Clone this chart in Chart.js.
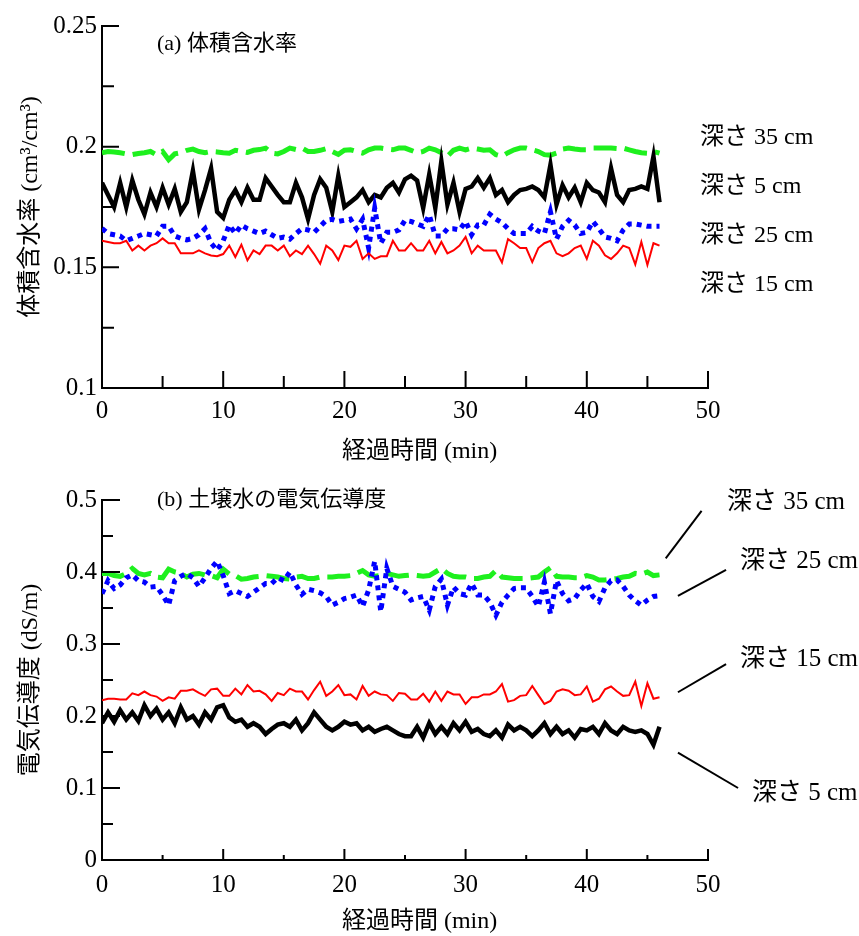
<!DOCTYPE html>
<html>
<head>
<meta charset="UTF-8">
<title>体積含水率・電気伝導度</title>
<style>
  body { margin: 0; background: #fff; }
  .box { position: absolute; left: 0; width: 859px; }
  #boxA { top: 0; height: 470px; }
  #boxB { top: 470px; height: 466px; }
</style>
</head>
<body>
<div class="box" id="boxA"><canvas id="chartA"></canvas></div>
<div class="box" id="boxB"><canvas id="chartB"></canvas></div>
<script src="https://cdn.jsdelivr.net/npm/chart.js@4.4.0/dist/chart.umd.min.js"></script>
<script>
// 経過時間 (min)
var times = [
  0, 0.5, 1, 1.5, 2, 2.5, 3, 3.5, 4, 4.5,
  5, 5.5, 6, 6.5, 7, 7.5, 8, 8.5, 9, 9.5,
  10, 10.5, 11, 11.5, 12, 12.5, 13, 13.5, 14, 14.5,
  15, 15.5, 16, 16.5, 17, 17.5, 18, 18.5, 19, 19.5,
  20, 20.5, 21, 21.5, 22, 22.5, 23, 23.5, 24, 24.5,
  25, 25.5, 26, 26.5, 27, 27.5, 28, 28.5, 29, 29.5,
  30, 30.5, 31, 31.5, 32, 32.5, 33, 33.5, 34, 34.5,
  35, 35.5, 36, 36.5, 37, 37.5, 38, 38.5, 39, 39.5,
  40, 40.5, 41, 41.5, 42, 42.5, 43, 43.5, 44, 44.5,
  45, 45.5, 46
];

// (a) 体積含水率 (cm3/cm3)
var vol5 = [
  0.185, 0.180, 0.175, 0.185, 0.175, 0.186, 0.178, 0.172, 0.181, 0.175,
  0.183, 0.176, 0.1825, 0.173, 0.177, 0.190, 0.174, 0.182, 0.191, 0.173,
  0.1705, 0.178, 0.182, 0.177, 0.183, 0.178, 0.178, 0.187, 0.1835, 0.180,
  0.177, 0.177, 0.185, 0.179, 0.170, 0.180, 0.1865, 0.183, 0.173, 0.188,
  0.175, 0.177, 0.179, 0.182, 0.177, 0.180, 0.179, 0.183, 0.185, 0.181,
  0.1865, 0.188, 0.186, 0.1746, 0.1885, 0.1746, 0.194, 0.176, 0.185, 0.173,
  0.1825, 0.1835, 0.187, 0.183, 0.187, 0.180, 0.182, 0.177, 0.180, 0.182,
  0.1825, 0.1835, 0.182, 0.179, 0.1925, 0.176, 0.184, 0.179, 0.183, 0.177,
  0.185, 0.182, 0.181, 0.177, 0.191, 0.180, 0.177, 0.182, 0.1825, 0.1835,
  0.1825, 0.196, 0.177
];
var vol15 = [
  0.161, 0.1605, 0.160, 0.160, 0.161, 0.157, 0.159, 0.157, 0.159, 0.160,
  0.162, 0.160, 0.160, 0.1558, 0.1558, 0.1558, 0.157, 0.1558, 0.1549, 0.1546,
  0.1555, 0.159, 0.1543, 0.1594, 0.1529, 0.157, 0.1555, 0.159, 0.159, 0.157,
  0.159, 0.1546, 0.157, 0.1555, 0.159, 0.1555, 0.1515, 0.159, 0.157, 0.153,
  0.159, 0.1585, 0.161, 0.1535, 0.1558, 0.1535, 0.1546, 0.1546, 0.161, 0.157,
  0.157, 0.160, 0.157, 0.157, 0.161, 0.1558, 0.1605, 0.1558, 0.157, 0.159,
  0.1626, 0.1558, 0.159, 0.157, 0.157, 0.157, 0.152, 0.1617, 0.160, 0.158,
  0.158, 0.1522, 0.158, 0.160, 0.161, 0.1558, 0.1546, 0.1558, 0.158, 0.159,
  0.1535, 0.161, 0.159, 0.155, 0.1535, 0.1558, 0.159, 0.158, 0.1512, 0.1605,
  0.151, 0.160, 0.159
];
var vol25 = [
  0.1661, 0.164, 0.1635, 0.163, 0.161, 0.162, 0.163, 0.164, 0.1635, 0.163,
  0.167, 0.167, 0.163, 0.162, 0.1614, 0.162, 0.1635, 0.166, 0.160, 0.157,
  0.161, 0.1675, 0.164, 0.1675, 0.166, 0.165, 0.164, 0.165, 0.1635, 0.162,
  0.1625, 0.1617, 0.164, 0.166, 0.1655, 0.1645, 0.167, 0.1695, 0.1699, 0.169,
  0.1695, 0.170, 0.166, 0.1699, 0.158, 0.1745, 0.160, 0.1645, 0.1645, 0.1655,
  0.1695, 0.169, 0.168, 0.167, 0.1717, 0.163, 0.163, 0.166, 0.166, 0.1655,
  0.169, 0.1635, 0.1675, 0.1675, 0.172, 0.170, 0.1685, 0.166, 0.164, 0.164,
  0.164, 0.167, 0.165, 0.164, 0.173, 0.1617, 0.167, 0.1695, 0.1675, 0.164,
  0.1645, 0.169, 0.166, 0.1626, 0.162, 0.161, 0.1655, 0.168, 0.168, 0.1675,
  0.167, 0.167, 0.167
];
var vol35 = [
  0.1975, 0.198, 0.1978, 0.1975, 0.197, 0.1967, 0.1972, 0.1975, 0.198, 0.1966,
  0.198, 0.1946, 0.197, 0.1975, 0.1985, 0.199, 0.198, 0.1975, 0.198, 0.1978,
  0.1975, 0.1973, 0.1985, 0.198, 0.1976, 0.1985, 0.1988, 0.1994, 0.1973, 0.197,
  0.198, 0.1994, 0.1988, 0.1994, 0.198, 0.198, 0.1985, 0.1992, 0.198, 0.1968,
  0.1985, 0.1987, 0.198, 0.1973, 0.1987, 0.1994, 0.1994, 0.199, 0.1987, 0.1994,
  0.1994, 0.1985, 0.1975, 0.198, 0.1994, 0.1987, 0.1975, 0.196, 0.1985, 0.1994,
  0.1987, 0.1994, 0.199, 0.1985, 0.1987, 0.1967, 0.196, 0.1975, 0.1987, 0.1994,
  0.1994, 0.1987, 0.198, 0.1967, 0.1965, 0.1973, 0.199, 0.1994, 0.199, 0.1987,
  0.1987, 0.1994, 0.1994, 0.1994, 0.1994, 0.1992, 0.1994, 0.1987, 0.198, 0.1975,
  0.1973, 0.198, 0.1973
];

// (b) 土壌水の電気伝導度 (dS/m)
var ec5 = [
  0.190, 0.205, 0.192, 0.208, 0.195, 0.205, 0.193, 0.215, 0.200, 0.210,
  0.195, 0.205, 0.190, 0.212, 0.195, 0.200, 0.188, 0.205, 0.195, 0.212,
  0.215, 0.198, 0.192, 0.195, 0.185, 0.190, 0.185, 0.175, 0.182, 0.188,
  0.190, 0.185, 0.195, 0.180, 0.190, 0.205, 0.195, 0.185, 0.180, 0.185,
  0.192, 0.188, 0.190, 0.180, 0.185, 0.178, 0.182, 0.185, 0.180, 0.175,
  0.172, 0.172, 0.185, 0.170, 0.190, 0.175, 0.185, 0.175, 0.190, 0.180,
  0.192, 0.178, 0.182, 0.175, 0.172, 0.180, 0.170, 0.188, 0.180, 0.185,
  0.180, 0.172, 0.180, 0.190, 0.175, 0.185, 0.175, 0.180, 0.170, 0.182,
  0.180, 0.185, 0.175, 0.190, 0.180, 0.175, 0.185, 0.180, 0.178, 0.180,
  0.175, 0.160, 0.185
];
var ec15 = [
  0.222, 0.224, 0.224, 0.223, 0.223, 0.2315, 0.229, 0.234, 0.229, 0.227,
  0.221, 0.226, 0.224, 0.235, 0.235, 0.237, 0.232, 0.228, 0.237, 0.238,
  0.228, 0.228, 0.238, 0.230, 0.243, 0.234, 0.235, 0.230, 0.221, 0.232,
  0.229, 0.238, 0.234, 0.234, 0.223, 0.236, 0.2477, 0.228, 0.234, 0.243,
  0.229, 0.230, 0.223, 0.2417, 0.228, 0.234, 0.230, 0.229, 0.221, 0.232,
  0.231, 0.223, 0.223, 0.231, 0.220, 0.234, 0.221, 0.234, 0.230, 0.230,
  0.2167, 0.226, 0.226, 0.230, 0.230, 0.234, 0.2444, 0.220, 0.222, 0.228,
  0.229, 0.2417, 0.229, 0.2167, 0.221, 0.234, 0.237, 0.235, 0.229, 0.230,
  0.241, 0.220, 0.224, 0.237, 0.241, 0.234, 0.228, 0.229, 0.2477, 0.214,
  0.2454, 0.224, 0.226
];
var ec25 = [
  0.370, 0.388, 0.377, 0.382, 0.392, 0.396, 0.388, 0.386, 0.379, 0.380,
  0.368, 0.354, 0.388, 0.394, 0.398, 0.392, 0.380, 0.392, 0.405, 0.415,
  0.395, 0.370, 0.374, 0.370, 0.366, 0.372, 0.378, 0.384, 0.384, 0.392,
  0.388, 0.400, 0.382, 0.369, 0.376, 0.374, 0.371, 0.366, 0.354, 0.358,
  0.363, 0.365, 0.368, 0.352, 0.375, 0.415, 0.345, 0.405, 0.380, 0.376,
  0.372, 0.361, 0.364, 0.366, 0.347, 0.380, 0.390, 0.354, 0.379, 0.370,
  0.368, 0.384, 0.368, 0.368, 0.358, 0.340, 0.358, 0.368, 0.377, 0.378,
  0.378, 0.366, 0.352, 0.386, 0.342, 0.388, 0.370, 0.360, 0.363, 0.375,
  0.384, 0.366, 0.359, 0.378, 0.388, 0.389, 0.380, 0.368, 0.360, 0.354,
  0.361, 0.366, 0.367
];
var ec35 = [
  0.398, 0.398, 0.395, 0.394, 0.398, 0.405, 0.398, 0.396, 0.398, 0.393,
  0.392, 0.404, 0.400, 0.398, 0.393, 0.397, 0.398, 0.396, 0.395, 0.392,
  0.404, 0.397, 0.395, 0.390, 0.391, 0.393, 0.394, 0.395, 0.394, 0.393,
  0.391, 0.390, 0.393, 0.394, 0.391, 0.391, 0.393, 0.393, 0.393, 0.394,
  0.394, 0.395, 0.398, 0.402, 0.396, 0.394, 0.395, 0.398, 0.396, 0.394,
  0.395, 0.396, 0.395, 0.394, 0.395, 0.400, 0.405, 0.398, 0.394, 0.393,
  0.393, 0.391, 0.391, 0.393, 0.394, 0.402, 0.393, 0.392, 0.391, 0.391,
  0.391, 0.392, 0.393, 0.400, 0.406, 0.394, 0.393, 0.393, 0.392, 0.392,
  0.395, 0.393, 0.389, 0.389, 0.390, 0.391, 0.393, 0.394, 0.398, 0.397,
  0.400, 0.395, 0.396
];

// 軸目盛
var xTicks = [0, 10, 20, 30, 40, 50];
var xMinor = [5, 15, 25, 35, 45];
var yTicksVol = [0.1, 0.15, 0.2, 0.25];
var yMinorVol = [0.125, 0.175, 0.225];
var yTicksEc = [0, 0.1, 0.2, 0.3, 0.4, 0.5];
var yMinorEc = [0.05, 0.15, 0.25, 0.35, 0.45];

var depthLabels = ['深さ 5 cm', '深さ 15 cm', '深さ 25 cm', '深さ 35 cm'];
var xTitle = '経過時間 (min)';

var FONT = '"Liberation Serif", "Noto Sans CJK JP", serif';
Chart.defaults.font.family = FONT;
Chart.defaults.color = '#000';

function pts(vals) {
  return times.map(function (t, i) { return {x: t, y: vals[i]}; });
}

// 線種: 5cm 黒太線, 15cm 赤細線, 25cm 青点線, 35cm 緑破線
function makeSets(v5, v15, v25, v35) {
  var base = {pointRadius: 0, tension: 0, borderJoinStyle: 'miter', borderCapStyle: 'butt', fill: false};
  return [
    Object.assign({label: depthLabels[1], data: pts(v15), borderColor: '#ff0000', borderWidth: 2}, base),
    Object.assign({label: depthLabels[2], data: pts(v25), borderColor: '#0000ff', borderWidth: 5, borderDash: [5, 5]}, base),
    Object.assign({label: depthLabels[0], data: pts(v5), borderColor: '#000000', borderWidth: 4.5}, base),
    Object.assign({label: depthLabels[3], data: pts(v35), borderColor: '#1ef01e', borderWidth: 5, borderDash: [23, 8]}, base)
  ];
}

// 内向きの目盛線
var inwardTicks = {
  id: 'inwardTicks',
  afterDatasetsDraw: function (chart, args, o) {
    var ctx = chart.ctx, a = chart.chartArea, x = chart.scales.x, y = chart.scales.y;
    ctx.save();
    ctx.strokeStyle = '#000';
    ctx.lineWidth = 2;
    ctx.beginPath();
    o.xMajor.forEach(function (v) { var p = x.getPixelForValue(v); ctx.moveTo(p, a.bottom); ctx.lineTo(p, a.bottom - o.xMajorLen); });
    o.xMinor.forEach(function (v) { var p = x.getPixelForValue(v); ctx.moveTo(p, a.bottom); ctx.lineTo(p, a.bottom - o.xMinorLen); });
    o.yMajor.forEach(function (v) { var p = y.getPixelForValue(v); ctx.moveTo(a.left, p); ctx.lineTo(a.left + o.yMajorLen, p); });
    o.yMinor.forEach(function (v) { var p = y.getPixelForValue(v); ctx.moveTo(a.left, p); ctx.lineTo(a.left + o.yMinorLen, p); });
    ctx.stroke();
    ctx.restore();
  }
};

// 図中の見出し・系列名・引出線・横軸タイトル
var notes = {
  id: 'notes',
  afterDraw: function (chart, args, o) {
    var ctx = chart.ctx, x = chart.scales.x, y = chart.scales.y;
    ctx.save();
    ctx.fillStyle = '#000';
    ctx.strokeStyle = '#000';
    ctx.lineWidth = 2;
    (o.lines || []).forEach(function (l) {
      ctx.beginPath();
      ctx.moveTo(x.getPixelForValue(l[0]), y.getPixelForValue(l[1]));
      ctx.lineTo(x.getPixelForValue(l[2]), y.getPixelForValue(l[3]));
      ctx.stroke();
    });
    ctx.textBaseline = 'middle';
    (o.texts || []).forEach(function (t) {
      ctx.textAlign = t.align || 'left';
      ctx.font = t.size + 'px ' + FONT;
      ctx.fillText(t.text, x.getPixelForValue(t.x), y.getPixelForValue(t.y));
    });
    ctx.restore();
  }
};

function makeChart(id, sets, yMin, yMax, yTicks, yTitle, padTop, xHeight, xTickPad, tickOpts, noteOpts) {
  return new Chart(document.getElementById(id), {
    type: 'line',
    data: {datasets: sets},
    options: {
      responsive: true,
      maintainAspectRatio: false,
      animation: false,
      layout: {padding: {left: 0, top: padTop, right: 151, bottom: 0}},
      plugins: {
        legend: {display: false},
        tooltip: {enabled: false},
        inwardTicks: tickOpts,
        notes: noteOpts
      },
      scales: {
        x: {
          type: 'linear',
          min: 0, max: 50,
          afterBuildTicks: function (s) { s.ticks = xTicks.map(function (v) { return {value: v}; }); },
          afterFit: function (s) { s.height = xHeight; },
          grid: {display: false, drawTicks: false},
          border: {display: true, color: '#000', width: 2},
          ticks: {font: {size: 25}, padding: xTickPad, maxRotation: 0}
        },
        y: {
          min: yMin, max: yMax,
          afterBuildTicks: function (s) { s.ticks = yTicks.map(function (v) { return {value: v}; }); },
          afterFit: function (s) { s.width = 102; },
          grid: {display: false, drawTicks: false},
          border: {display: true, color: '#000', width: 2},
          ticks: {font: {size: 25}, padding: 5, callback: function (v) { return String(v); }},
          title: {display: true, text: yTitle, font: {size: 24}, padding: {top: 16, bottom: 0}}
        }
      }
    },
    plugins: [inwardTicks, notes]
  });
}

makeChart('chartA', makeSets(vol5, vol15, vol25, vol35), 0.1, 0.25, yTicksVol,
  '体積含水率 (cm³/cm³)', 26, 82, 8,
  {xMajor: xTicks, xMinor: xMinor, yMajor: yTicksVol, yMinor: yMinorVol,
   xMajorLen: 17, xMinorLen: 12, yMajorLen: 17, yMinorLen: 12},
  {texts: [
    {text: '(a) 体積含水率', x: 4.54, y: 0.2425, size: 22},
    {text: depthLabels[3], x: 49.34, y: 0.2038, size: 24},
    {text: depthLabels[0], x: 49.34, y: 0.1833, size: 24},
    {text: depthLabels[2], x: 49.34, y: 0.1629, size: 24},
    {text: depthLabels[1], x: 49.34, y: 0.1429, size: 24},
    {text: xTitle, x: 26.2, y: 0.0735, size: 24, align: 'center'}
  ]});

makeChart('chartB', makeSets(ec5, ec15, ec25, ec35), 0, 0.5, yTicksEc,
  '電気伝導度 (dS/m)', 30, 76, 10,
  {xMajor: xTicks, xMinor: xMinor, yMajor: yTicksEc, yMinor: yMinorEc,
   xMajorLen: 11, xMinorLen: 5, yMajorLen: 18, yMinorLen: 11},
  {texts: [
    {text: '(b) 土壌水の電気伝導度', x: 4.54, y: 0.5, size: 22},
    {text: depthLabels[3], x: 51.57, y: 0.496, size: 25},
    {text: depthLabels[2], x: 52.64, y: 0.414, size: 25},
    {text: depthLabels[1], x: 52.64, y: 0.278, size: 25},
    {text: depthLabels[0], x: 53.63, y: 0.093, size: 25},
    {text: xTitle, x: 26.2, y: -0.0861, size: 24, align: 'center'}
  ],
  lines: [
    [46.51, 0.419, 49.47, 0.485],
    [47.52, 0.367, 51.49, 0.403],
    [47.52, 0.233, 51.49, 0.272],
    [47.52, 0.149, 52.48, 0.100]
  ]});
</script>
</body>
</html>
